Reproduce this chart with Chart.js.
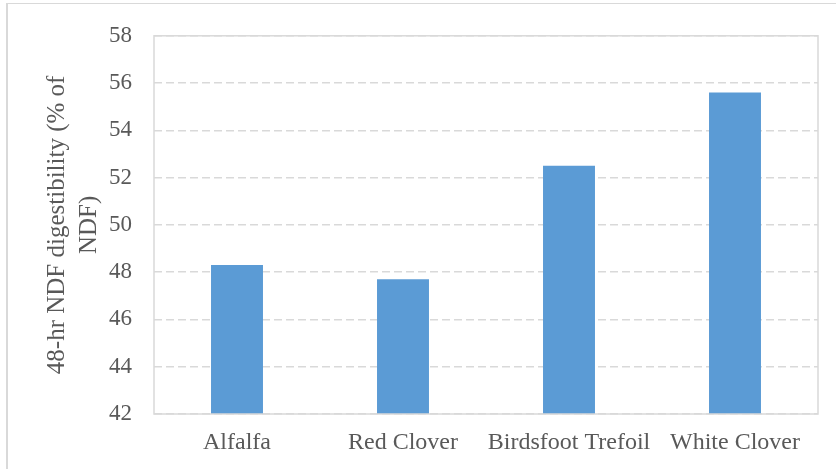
<!DOCTYPE html>
<html>
<head>
<meta charset="utf-8">
<script src="https://cdn.jsdelivr.net/npm/chart.js@4.4.1/dist/chart.umd.min.js"></script>
<style>
  html, body { margin: 0; padding: 0; background: #fff; }
  #wrap { position: relative; width: 836px; height: 469px; }
  #frame { position: absolute; left: 6px; top: 3px; right: 0; bottom: 0;
           border-left: 2px solid #d9d9d9; border-top: 1px solid #d9d9d9; pointer-events: none; }
  canvas { position: absolute; left: 0; top: 0; }
</style>
</head>
<body>
<div id="wrap">
  <canvas id="myChart" width="836" height="469"></canvas>
  <div id="frame"></div>
</div>
<script>
// chart data
const forages = ['Alfalfa', 'Red Clover', 'Birdsfoot Trefoil', 'White Clover'];
const ndfDigestibility = [48.3, 47.7, 52.5, 55.6];
const yTicks = [42, 44, 46, 48, 50, 52, 54, 56, 58];
const yTitle = ['48-hr NDF digestibility (% of', 'NDF)'];

const textColor = '#595959';
const lineColor = '#d9d9d9';
const serif = '"Liberation Serif", "Times New Roman", serif';

// outline round the plot area
const plotBorder = {
    id: 'plotBorder',
    afterDatasetsDraw(chart) {
        const a = chart.chartArea;
        const ctx = chart.ctx;
        ctx.save();
        ctx.strokeStyle = lineColor;
        ctx.lineWidth = 1.5;
        ctx.strokeRect(a.left, a.top, a.right - a.left, a.bottom - a.top);
        ctx.restore();
    }
};

const ctx = document.getElementById('myChart').getContext('2d');
const myChart = new Chart(ctx, {
    type: 'bar',
    data: {
        labels: forages,
        datasets: [{
            data: ndfDigestibility,
            backgroundColor: '#5b9bd5',
            borderWidth: 0,
            categoryPercentage: 1,
            barPercentage: 0.313
        }]
    },
    options: {
        responsive: false,
        animation: false,
        devicePixelRatio: 1,
        layout: { padding: { top: 32, right: 18, left: 0, bottom: 0 } },
        plugins: {
            legend: { display: false },
            tooltip: { enabled: false }
        },
        scales: {
            x: {
                grid: { display: false, drawTicks: false },
                border: { display: false },
                ticks: {
                    color: textColor,
                    font: { family: serif, size: 24 },
                    padding: 14,
                    maxRotation: 0,
                    autoSkip: false
                },
                afterFit(scale) { scale.height = 55; }
            },
            y: {
                min: 42,
                max: 58,
                afterBuildTicks(scale) {
                    scale.ticks = yTicks.map(v => ({ value: v }));
                },
                grid: {
                    color: lineColor,
                    lineWidth: 1.5,
                    drawTicks: false
                },
                border: { display: false, dash: [8, 4] },
                ticks: {
                    color: textColor,
                    font: { family: serif, size: 23 },
                    padding: 22
                },
                title: {
                    display: true,
                    text: yTitle,
                    color: textColor,
                    font: { family: serif, size: 25, lineHeight: 1.3 },
                    padding: { top: 41, bottom: 0 }
                },
                afterFit(scale) { scale.width = 154; }
            }
        }
    },
    plugins: [plotBorder]
});
</script>
</body>
</html>
